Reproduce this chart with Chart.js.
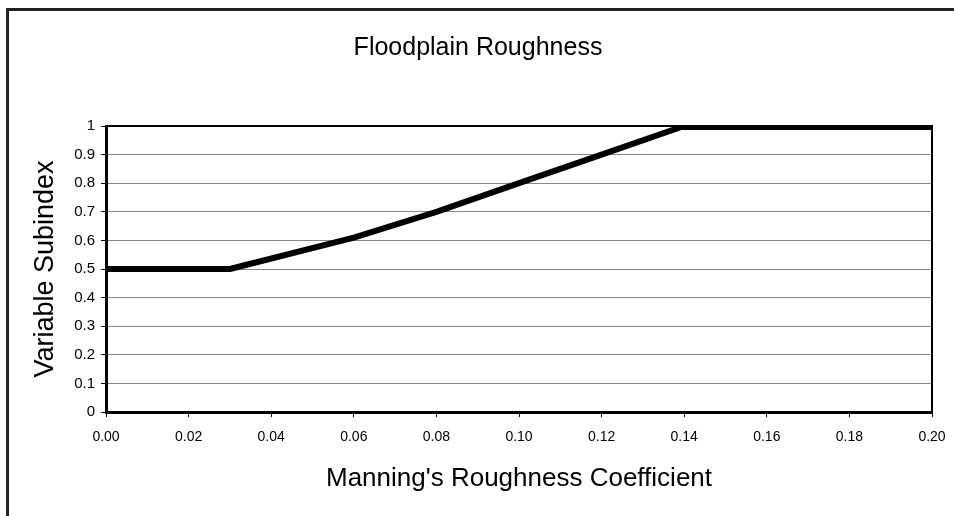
<!DOCTYPE html>
<html>
<head>
<meta charset="utf-8">
<script src="https://cdn.jsdelivr.net/npm/chart.js@4.4.1/dist/chart.umd.min.js"></script>
<style>
  html, body { margin: 0; padding: 0; background: #fff; }
  #wrap { position: relative; width: 954px; height: 516px; overflow: hidden; }
  #frame { position: absolute; left: 6px; top: 8px; width: 1000px; height: 600px;
           border-top: 3px solid #222; border-left: 3px solid #222; }
  canvas { position: absolute; left: 0; top: 0; }
</style>
</head>
<body>
<div id="wrap">
  <div id="frame"></div>
  <canvas id="chart" width="954" height="516"></canvas>
</div>
<script>
// values
var roughness = [0, 0.03, 0.06, 0.08, 0.10, 0.12, 0.14, 0.20];
var subindex  = [0.5, 0.5, 0.61, 0.70, 0.80, 0.90, 1.0, 1.0];
var xTicks = [0, 0.02, 0.04, 0.06, 0.08, 0.10, 0.12, 0.14, 0.16, 0.18, 0.20];
var yTicks = [0, 0.1, 0.2, 0.3, 0.4, 0.5, 0.6, 0.7, 0.8, 0.9, 1];

var points = [];
for (var i = 0; i < roughness.length; i++) {
  points.push({ x: roughness[i], y: subindex[i] });
}

var fontFam = "'Liberation Sans', Arial, sans-serif";

// thin black box round the plot area
var plotBox = {
  id: 'plotBox',
  beforeDatasetsDraw: function (chart) {
    var a = chart.chartArea, c = chart.ctx;
    c.save();
    c.strokeStyle = '#000';
    c.lineWidth = 2;
    c.beginPath();
    c.moveTo(a.left, a.top);
    c.lineTo(a.right, a.top);
    c.lineTo(a.right, a.bottom);
    c.stroke();
    c.restore();
  }
};

new Chart(document.getElementById('chart'), {
  type: 'line',
  data: {
    datasets: [{
      data: points,
      borderColor: '#000',
      borderWidth: 6,
      borderCapStyle: 'round',
      borderJoinStyle: 'round',
      pointRadius: 0,
      tension: 0,
      segment: {
        borderWidth: function (ctx) { return ctx.p0.parsed.x >= 0.14 ? 8 : 6; }
      }
    }]
  },
  options: {
    responsive: false,
    animation: false,
    layout: { padding: { left: 24, right: 22, top: 0, bottom: 22 } },
    plugins: {
      legend: { display: false },
      tooltip: { enabled: false },
      title: {
        display: true,
        text: 'Floodplain Roughness',
        color: '#000',
        font: { family: fontFam, size: 25, weight: 'normal' },
        padding: { top: 33, bottom: 63 }
      }
    },
    scales: {
      x: {
        type: 'linear',
        min: 0, max: 0.2,
        afterBuildTicks: function (s) { s.ticks = xTicks.map(function (v) { return { value: v }; }); },
        afterFit: function (s) { s.height = 82; s.paddingRight = 0; s.paddingLeft = 0; },
        ticks: {
          color: '#000',
          font: { family: fontFam, size: 14 },
          padding: 12,
          maxRotation: 0,
          autoSkip: false,
          callback: function (v) { return v.toFixed(2); }
        },
        grid: { drawOnChartArea: false, tickLength: 5, tickColor: '#000', tickWidth: 1 },
        border: { color: '#000', width: 3 },
        title: {
          display: true,
          text: "Manning's Roughness Coefficient",
          color: '#000',
          font: { family: fontFam, size: 26 },
          padding: { top: 12, bottom: 0 }
        }
      },
      y: {
        min: 0, max: 1,
        afterBuildTicks: function (s) { s.ticks = yTicks.map(function (v) { return { value: v }; }); },
        afterFit: function (s) { s.width = 82; },
        ticks: {
          color: '#000',
          font: { family: fontFam, size: 15 },
          padding: 6,
          callback: function (v) { return String(v); }
        },
        grid: { color: '#888', lineWidth: 1, tickLength: 5, tickColor: '#000', tickWidth: 1 },
        border: { color: '#000', width: 3 },
        title: {
          display: true,
          text: 'Variable Subindex',
          color: '#000',
          font: { family: fontFam, size: 27 },
          padding: { top: 5, bottom: 0 }
        }
      }
    }
  },
  plugins: [plotBox]
});
</script>
</body>
</html>
